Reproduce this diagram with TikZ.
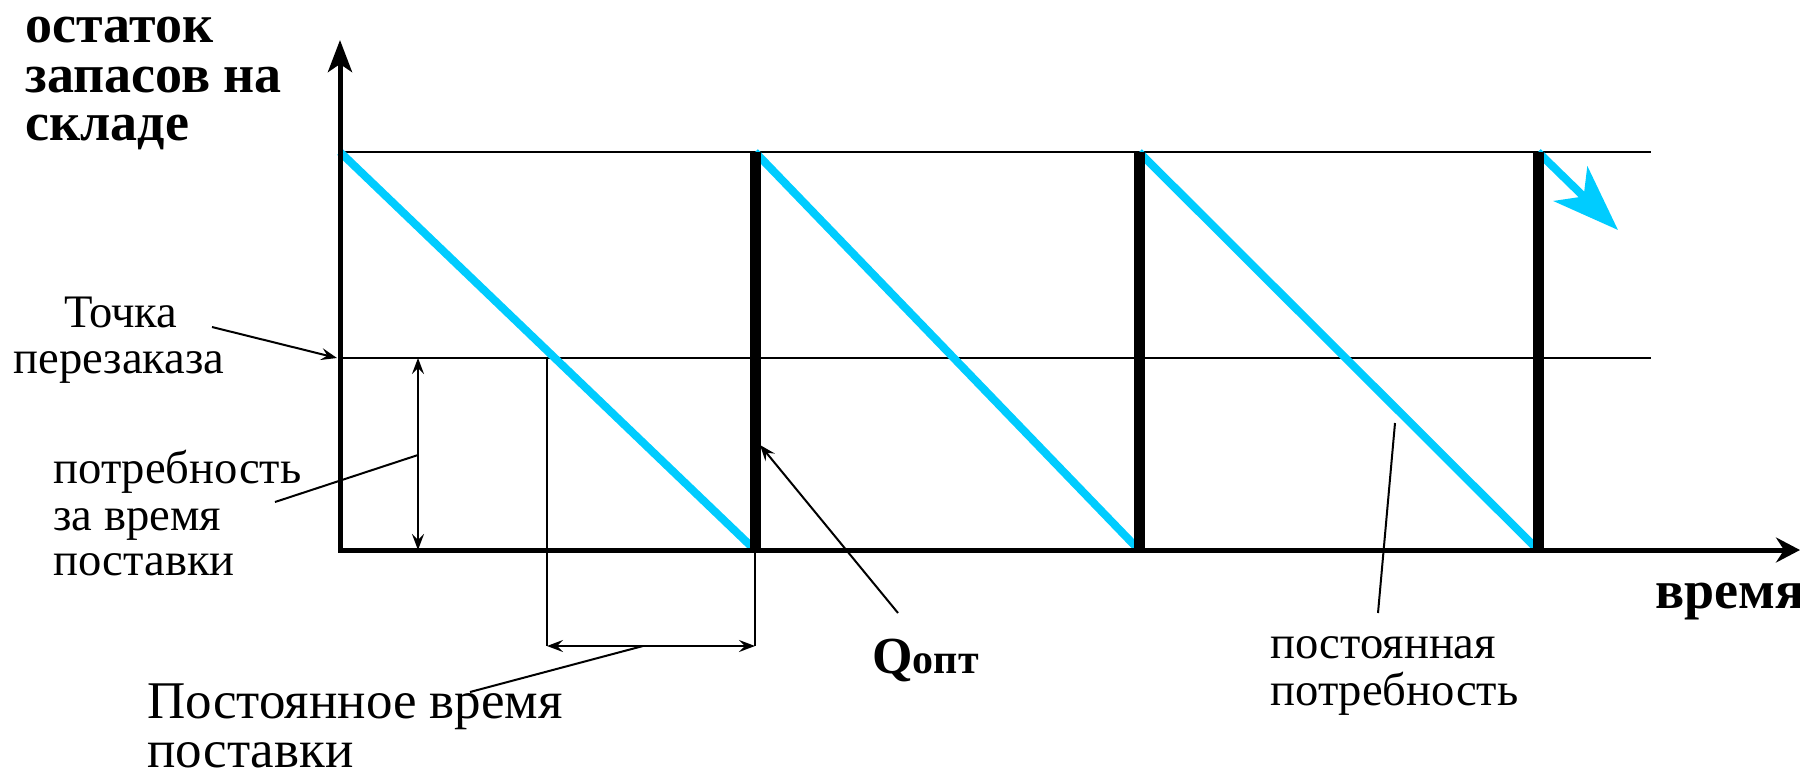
\documentclass[tikz,border=0pt]{standalone}
\usepackage{fontspec}
\setmainfont{Liberation Serif}
\usetikzlibrary{arrows.meta}
\definecolor{cyanline}{RGB}{0,204,255}
\tikzset{
  lbl/.style={inner sep=0pt, anchor=base west, font=\fontsize{23.3}{23.3}\selectfont},
  lblc/.style={inner sep=0pt, anchor=base, font=\fontsize{23.3}{23.3}\selectfont},
  ttl/.style={inner sep=0pt, anchor=base west, font=\fontsize{27}{27}\selectfont\bfseries},
  axisline/.style={line width=2.5pt},
  thin/.style={line width=0.9pt},
  leader/.style={line width=1pt},
  refill/.style={line width=5.5pt},
  usage/.style={line width=4pt, cyanline},
  smallhead/.style={-{Stealth[length=8pt,width=6pt,inset=3pt]}},
  dblhead/.style={{Stealth[length=8pt,width=6pt,inset=3pt]}-{Stealth[length=8pt,width=6pt,inset=3pt]}}
}
\begin{document}
\begin{tikzpicture}[x=0.5pt,y=-0.5pt]
\useasboundingbox (0,0) rectangle (1800,772);
% key coordinates
\coordinate (O) at (340,550);
\coordinate (Ytip) at (340,40);
\coordinate (Xstart) at (338,550);
\coordinate (Xtip) at (1800,550);
\coordinate (T0) at (340,152);
\coordinate (Tend) at (1651,152);
\coordinate (R0) at (340,358);
\coordinate (Rend) at (1651,358);
\coordinate (V1t) at (755,152); \coordinate (V1b) at (755,550);
\coordinate (V2t) at (1139,152); \coordinate (V2b) at (1139,550);
\coordinate (V3t) at (1538,152); \coordinate (V3b) at (1538,550);
\coordinate (Btip) at (1618,230);
% horizontal lines
\draw[thin] (T0) -- (Tend);
\draw[thin] (R0) -- (Rend);
% usage lines
\draw[usage] (T0) -- (V1b);
\draw[usage] (V1t) -- (V2b);
\draw[usage] (V2t) -- (V3b);
\draw[usage, -{Stealth[length=33pt,width=24pt,inset=9pt]}] (V3t) -- (Btip);
% refill verticals
\draw[refill] (V1t) -- (V1b);
\draw[refill] (V2t) -- (V2b);
\draw[refill] (V3t) -- (V3b);
% axes
\draw[axisline, -{Stealth[length=16pt,width=12pt,inset=4pt]}] (O) -- (Ytip);
\draw[axisline, -{Stealth[length=12pt,width=12.5pt,inset=4pt]}] (Xstart) -- (Xtip);
% lead time
\coordinate (L1t) at (547,358); \coordinate (L1b) at (547,646);
\coordinate (L2t) at (755,550); \coordinate (L2b) at (755,646);
\draw[leader] (L1t) -- (L1b);
\draw[leader] (L2t) -- (L2b);
\draw[leader, dblhead] (L1b) -- (L2b);
% demand during lead time
\coordinate (Dt) at (418,358); \coordinate (Db) at (418,550);
\draw[leader, dblhead] (Dt) -- (Db);
% labels
\node[ttl] (t1) at (25,42) {остаток};
\node[ttl] (t2) at (25,92) {запасов на};
\node[ttl] (t3) at (25,140) {складе};
\node[ttl] (xl) at (1655,608) {время};
\node[lblc] (r1) at (121,327) {Точка};
\node[lblc] (r2) at (119,373) {перезаказа};
\node[lbl] (d1) at (53,483) {потребность};
\node[lbl] (d2) at (53,530) {за время};
\node[lbl] (d3) at (53,575) {поставки};
\node[lbl, font=\fontsize{26.5}{26.5}\selectfont] (p1) at (147,718) {Постоянное время};
\node[lbl, font=\fontsize{26.5}{26.5}\selectfont] (p2) at (147,767) {поставки};
\node[lbl, font=\fontsize{26}{26}\selectfont\bfseries] (q) at (872,673) {Q{\fontsize{21}{21}\selectfont опт}};
\node[lbl] (c1) at (1270,658) {постоянная};
\node[lbl] (c2) at (1270,705) {потребность};
% leaders
\coordinate (rA) at (212,327); \coordinate (rB) at (337,358);
\draw[leader, smallhead] (rA) -- (rB);
\coordinate (dA) at (275,502); \coordinate (dB) at (418,455);
\draw[leader] (dA) -- (dB);
\coordinate (pA) at (470,692); \coordinate (pB) at (643,646);
\draw[leader] (pA) -- (pB);
\coordinate (qA) at (898,613); \coordinate (qB) at (760,445);
\draw[leader, smallhead] (qA) -- (qB);
\coordinate (cA) at (1378,613); \coordinate (cB) at (1395,423);
\draw[leader] (cA) -- (cB);
\end{tikzpicture}
\end{document}
